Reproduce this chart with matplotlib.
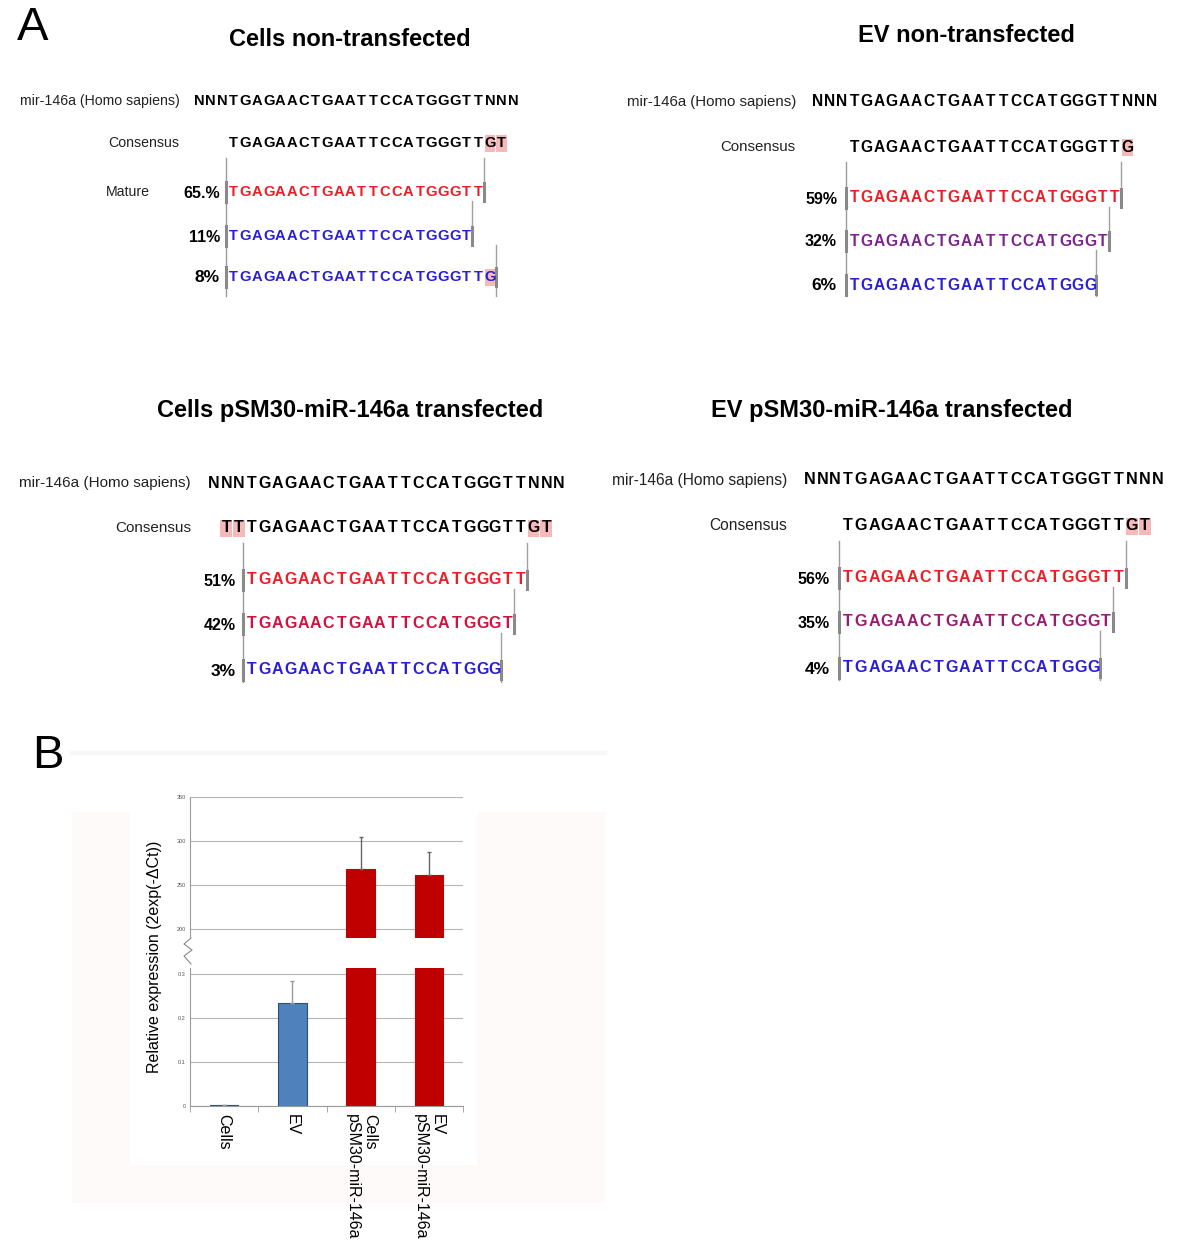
import matplotlib.pyplot as plt
from matplotlib.patches import Rectangle

plt.rcParams['font.family'] = ['Liberation Sans', 'DejaVu Sans']

# ---- panel A data ----
REF_LABEL = "mir-146a (Homo sapiens)"
REF_SEQ = "NNNTGAGAACTGAATTCCATGGGTTNNN"
TITLES = ["Cells non-transfected", "EV non-transfected",
          "Cells pSM30-miR-146a transfected", "EV pSM30-miR-146a transfected"]
CONSENSUS = ["TGAGAACTGAATTCCATGGGTTGT", "TGAGAACTGAATTCCATGGGTTG",
             "TTTGAGAACTGAATTCCATGGGTTGT", "TGAGAACTGAATTCCATGGGTTGT"]
CONS_HIGHLIGHT = [[22, 23], [22], [0, 1, 24, 25], [22, 23]]
PERCENTS = [["65.%", "11%", "8%"], ["59%", "32%", "6%"],
            ["51%", "42%", "3%"], ["56%", "35%", "4%"]]
READS = [["TGAGAACTGAATTCCATGGGTT", "TGAGAACTGAATTCCATGGGT", "TGAGAACTGAATTCCATGGGTTG"],
         ["TGAGAACTGAATTCCATGGGTT", "TGAGAACTGAATTCCATGGGT", "TGAGAACTGAATTCCATGGG"],
         ["TGAGAACTGAATTCCATGGGTT", "TGAGAACTGAATTCCATGGGT", "TGAGAACTGAATTCCATGGG"],
         ["TGAGAACTGAATTCCATGGGTT", "TGAGAACTGAATTCCATGGGT", "TGAGAACTGAATTCCATGGG"]]
READ_COLORS = [["#ee1c24", "#2a1fd6", "#2a1fd6"],
               ["#ee1c24", "#7d2390", "#2a1fd6"],
               ["#ee1c24", "#d0123e", "#2a1fd6"],
               ["#ee1c24", "#9a1c6e", "#2a1fd6"]]
READ_HIGHLIGHT = [[[], [], [22]], [[], [], []], [[], [], []], [[], [], []]]

# ---- panel B data ----
GROUPS = ["Cells", "EV", "Cells\npSM30-miR-146a", "EV\npSM30-miR-146a"]
EXPR = [0.002, 0.235, 268, 261]
EXPR_ERR = [0, 0.048, 37, 27]
BAR_COLORS = ["#4f81bd", "#4f81bd", "#c00000", "#c00000"]
BAR_EDGES = ["#2f4f72", "#2f4f72", "#c00000", "#c00000"]
UPPER_TICKS = [200, 250, 300, 350]
LOWER_TICKS = [0, 0.1, 0.2, 0.3]
LOWER_TICKLABELS = ["0", "0.1", "0.2", "0.3"]

HL = "#f6b9b9"
W, H = 1200, 1256

# layout for each sequence panel (pixels)
LAYOUT = [
    dict(title=(350, 40), ref_lab=180, ref_y=101, x0=193, pitch=11.64, size=10.6,
         lab_size=10.2, cons_lab=179, cons_y=143, cons_off=3, rows=[192, 236, 277],
         pct=220, line_x=226, top=158, bottom=296),
    dict(title=(966, 35), ref_lab=796, ref_y=102, x0=811, pitch=12.4, size=11.2,
         lab_size=10.8, cons_lab=795, cons_y=147, cons_off=3, rows=[198, 241, 285],
         pct=837, line_x=846, top=162, bottom=296),
    dict(title=(350, 410), ref_lab=191, ref_y=483, x0=207, pitch=12.8, size=11.5,
         lab_size=11, cons_lab=191, cons_y=528, cons_off=1, rows=[580, 624, 670],
         pct=236, line_x=243, top=543, bottom=682),
    dict(title=(892, 410), ref_lab=787, ref_y=480, x0=803, pitch=12.9, size=11.6,
         lab_size=11.2, cons_lab=787, cons_y=526, cons_off=3, rows=[578, 622, 668],
         pct=830, line_x=839, top=541, bottom=680),
]

fig = plt.figure(figsize=(12, 12.56), dpi=100)
canvas = fig.add_axes([0, 0, 1, 1])
canvas.set_xlim(0, W)
canvas.set_ylim(H, 0)
canvas.axis('off')


def draw_seq(x0, pitch, y, seq, color, size, highlight=()):
    for i, ch in enumerate(seq):
        if i in highlight:
            canvas.add_patch(Rectangle((x0 + i * pitch + 0.5, y - 8.5), pitch - 1, 17,
                                       facecolor=HL, edgecolor='none', zorder=1))
        canvas.text(x0 + (i + 0.5) * pitch, y, ch, ha='center', va='center',
                    fontsize=size, fontweight='bold', color=color, zorder=2)


canvas.text(17, 40, "A", fontsize=34, ha='left', va='baseline')
canvas.text(32, 768, "B", fontsize=34, ha='left', va='baseline')

for k, lay in enumerate(LAYOUT):
    p = lay['pitch']
    canvas.text(*lay['title'], TITLES[k], ha='center', va='center', fontsize=17,
                fontweight='bold')
    canvas.text(lay['ref_lab'], lay['ref_y'], REF_LABEL, ha='right', va='center',
                fontsize=lay['lab_size'], color='#222222')
    draw_seq(lay['x0'], p, lay['ref_y'], REF_SEQ, 'black', lay['size'])
    canvas.text(lay['cons_lab'], lay['cons_y'], "Consensus", ha='right', va='center',
                fontsize=lay['lab_size'], color='#222222')
    draw_seq(lay['x0'] + lay['cons_off'] * p, p, lay['cons_y'], CONSENSUS[k], 'black',
             lay['size'], CONS_HIGHLIGHT[k])
    rx0 = lay['x0'] + 3 * p
    canvas.plot([lay['line_x'], lay['line_x']], [lay['top'], lay['bottom']],
                color='#9a9a9a', lw=1, zorder=0)
    prev = lay['top']
    for r, y in enumerate(lay['rows']):
        canvas.plot([lay['line_x'], lay['line_x']], [y - 10, y + 10],
                    color='#8a8a8a', lw=2.2, zorder=0)
        canvas.text(lay['pct'], y + 1, PERCENTS[k][r], ha='right', va='center',
                    fontsize=11.5 if r < 2 else 12.5, fontweight='bold')
        draw_seq(rx0, p, y, READS[k][r], READ_COLORS[k][r], lay['size'],
                 READ_HIGHLIGHT[k][r])
        xe = rx0 + len(READS[k][r]) * p
        end = lay['bottom'] if r == 2 else y + 9
        canvas.plot([xe, xe], [prev, end], color='#a0a0a0', lw=1, zorder=0)
        canvas.plot([xe, xe], [y - 9, y + 9], color='#8a8a8a', lw=2.2, zorder=0)
        prev = y + 9

canvas.text(106, 192, "Mature", ha='left', va='center', fontsize=10.2, color='#222222')

# faint background of panel B
canvas.add_patch(Rectangle((72, 812), 533, 391, facecolor='#fefafa', edgecolor='none', zorder=0))
canvas.add_patch(Rectangle((130, 785), 347, 380, facecolor='white', edgecolor='none', zorder=0))
canvas.plot([72, 605], [753, 753], color='#f7f7f7', lw=3, zorder=0)

# zigzag for the broken axis
canvas.plot([191, 184, 192, 184, 191], [938, 944, 950, 956, 964], color='#888888', lw=0.8)


def px_axes(left, top, right, bottom):
    return fig.add_axes([left / W, 1 - bottom / H, (right - left) / W, (bottom - top) / H])


x = list(range(len(GROUPS)))
ax_hi = px_axes(190, 797, 463, 938)
ax_lo = px_axes(190, 968, 463, 1106)

for ax in (ax_hi, ax_lo):
    ax.patch.set_alpha(0)
    ax.bar(x, EXPR, width=0.42, color=BAR_COLORS, edgecolor=BAR_EDGES, linewidth=0.8,
           zorder=2)
    ax.set_xlim(-0.5, 3.5)
    for s in ('top', 'right'):
        ax.spines[s].set_visible(False)
    ax.spines['left'].set_color('#9a9a9a')
    ax.spines['left'].set_linewidth(0.8)
    ax.yaxis.grid(True, color='#b5b5b5', lw=0.8, zorder=0)
    ax.set_axisbelow(True)
    ax.tick_params(axis='y', length=0, labelsize=4, labelcolor='#555555', pad=3)

for i in range(len(GROUPS)):
    c = '#9a9a9a' if i < 2 else '#666666'
    for ax in (ax_hi, ax_lo):
        ax.errorbar(x[i], EXPR[i], yerr=[[0], [EXPR_ERR[i]]], fmt='none', ecolor=c,
                    elinewidth=1, capsize=1.5, capthick=1, zorder=3)

ax_hi.set_ylim(190, 350)
ax_hi.set_yticks(UPPER_TICKS)
ax_hi.spines['bottom'].set_visible(False)
ax_hi.set_xticks([])

ax_lo.set_ylim(0, 0.3135)
ax_lo.set_yticks(LOWER_TICKS)
ax_lo.set_yticklabels(LOWER_TICKLABELS)
ax_lo.spines['bottom'].set_color('#9a9a9a')
ax_lo.spines['bottom'].set_linewidth(0.8)
ax_lo.set_xticks(x)
ax_lo.set_xticklabels(GROUPS, rotation=270, ha='center', va='top',
                      multialignment='left', fontsize=11.5)
ax_lo.set_xticks([-0.5, 0.5, 1.5, 2.5, 3.5], minor=True)
ax_lo.tick_params(axis='x', which='major', length=0, pad=6)
ax_lo.tick_params(axis='x', which='minor', length=4, color='#9a9a9a', direction='out')

canvas.text(155, 957, "Relative expression (2exp(-\u0394Ct))", rotation=90,
            ha='center', va='center', fontsize=11.5)

fig.savefig("out.png", dpi=100)
